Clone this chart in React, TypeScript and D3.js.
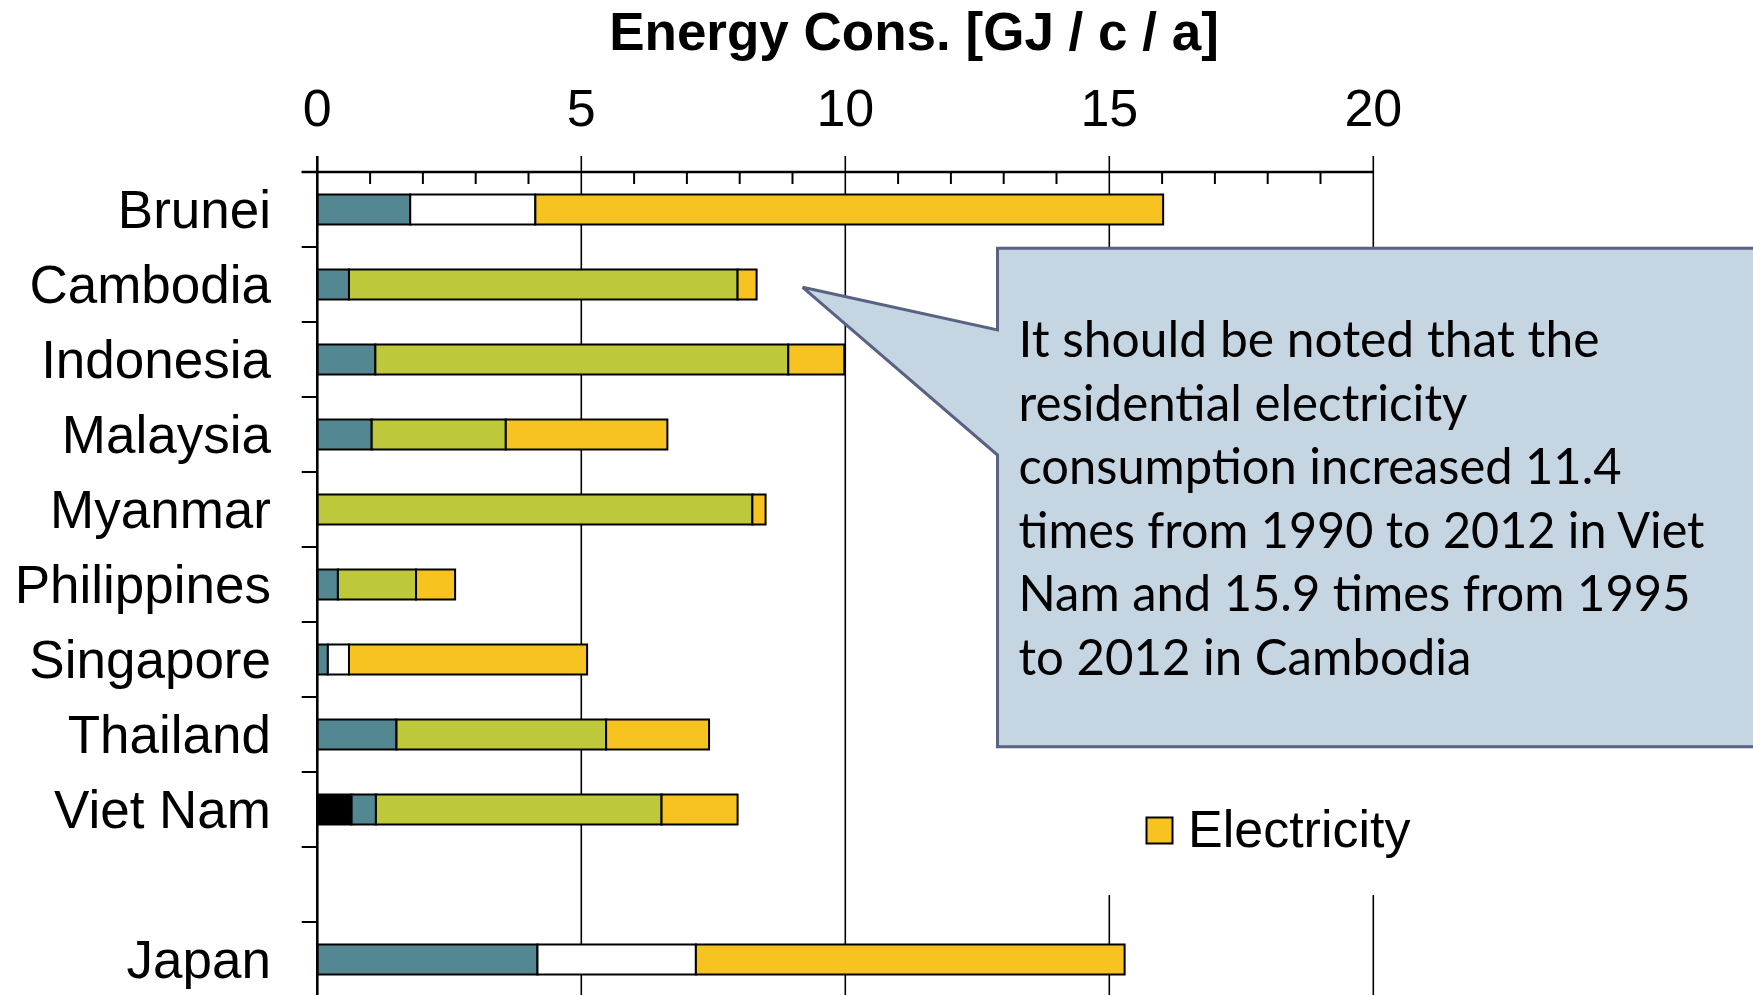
import React from "react";
import * as d3 from "d3";

// Residential energy consumption per capita, by energy source [GJ / c / a]
const countries = ["Brunei", "Cambodia", "Indonesia", "Malaysia", "Myanmar", "Philippines", "Singapore", "Thailand", "Viet Nam", "Japan"];
const rowKeys = ["Brunei", "Cambodia", "Indonesia", "Malaysia", "Myanmar", "Philippines", "Singapore", "Thailand", "Viet Nam", "gap", "Japan"];
const coal = [0, 0, 0, 0, 0, 0, 0, 0, 0.65, 0];
const oil = [1.76, 0.6, 1.1, 1.03, 0, 0.39, 0.2, 1.5, 0.46, 4.17];
const gas = [2.37, 0, 0, 0, 0, 0, 0.4, 0, 0, 3.0];
const biomass = [0, 7.36, 7.82, 2.54, 8.24, 1.48, 0, 3.97, 5.41, 0];
const electricity = [11.89, 0.36, 1.06, 3.06, 0.25, 0.74, 4.51, 1.95, 1.44, 8.12];
const seriesKeys = ["Coal", "Oil", "Gas", "Biomass", "Electricity"];
const seriesColors = ["#000000", "#538893", "#ffffff", "#bdc83a", "#f6c320"];
const xTicks = [0, 5, 10, 15, 20];
const minorTicks = d3.range(0, 21);
const titleText = "Energy Cons. [GJ / c / a]";
const noteLines = [
  "It should be noted that the",
  "residential electricity",
  "consumption increased 11.4",
  "times from 1990 to 2012 in Viet",
  "Nam and 15.9 times from 1995",
  "to 2012 in Cambodia",
];
const noteWidths = [581, 449, 603, 686, 672, 453];

const W = 1753;
const H = 995;
const sans = "Arial, 'Liberation Sans', Helvetica, sans-serif";

export default function App() {
  const table = countries.map((c, i) => ({
    country: c,
    Coal: coal[i],
    Oil: oil[i],
    Gas: gas[i],
    Biomass: biomass[i],
    Electricity: electricity[i],
  }));
  const stacked = d3.stack<any>().keys(seriesKeys)(table);

  const x = d3.scaleLinear().domain([0, 20]).range([317.3, 1373.3]);
  const y = d3
    .scaleBand<string>()
    .domain(rowKeys)
    .range([172, 997])
    .paddingInner(0.6)
    .paddingOuter(0.3);
  const step = y.step();
  const boundaries = rowKeys.map((k) => (y(k) as number) - step * 0.3).concat([997]);
  const top = 172;
  const bottom = 997;
  const color = d3.scaleOrdinal<string, string>().domain(seriesKeys).range(seriesColors);

  // speech-bubble callout
  const cx = 997.5;
  const callout = d3.path();
  callout.moveTo(cx, 248.3);
  callout.lineTo(1770, 248.3);
  callout.lineTo(1770, 746.7);
  callout.lineTo(cx, 746.7);
  callout.lineTo(cx, 455);
  callout.lineTo(802.7, 287.3);
  callout.lineTo(cx, 330);
  callout.closePath();

  return (
    <div style={{ position: "absolute", left: 0, top: 0 }}>
      <svg width={W} height={H} viewBox={`0 0 ${W} ${H}`} style={{ display: "block", background: "#ffffff" }}>
        <text x={914} y={50} textAnchor="middle" fontFamily={sans} fontWeight="bold" fontSize={53} fill="#000">
          {titleText}
        </text>

        {xTicks.map((t) => (
          <text key={`tl${t}`} x={x(t)} y={126} textAnchor="middle" fontFamily={sans} fontSize={52} fill="#000">
            {t}
          </text>
        ))}

        {/* vertical gridlines */}
        {xTicks.slice(1).map((t) => (
          <line key={`g${t}`} x1={x(t)} x2={x(t)} y1={156} y2={bottom} stroke="#000" strokeWidth={1.6} />
        ))}

        {/* minor ticks on the top axis */}
        {minorTicks
          .filter((t) => t % 5 !== 0)
          .map((t) => (
            <line key={`m${t}`} x1={x(t)} x2={x(t)} y1={top} y2={184} stroke="#000" strokeWidth={2} />
          ))}

        {/* category boundary ticks */}
        {boundaries.map((b, i) => (
          <line key={`ct${i}`} x1={301.7} x2={x(0)} y1={b} y2={b} stroke="#000" strokeWidth={2} />
        ))}

        {/* stacked bars */}
        {stacked.map((s) => (
          <g key={s.key} fill={color(s.key)}>
            {s.map((d, i) =>
              d[1] - d[0] > 0 ? (
                <rect
                  key={`${s.key}${i}`}
                  x={x(d[0])}
                  y={y(table[i].country) as number}
                  width={x(d[1]) - x(d[0])}
                  height={y.bandwidth()}
                  stroke="#000"
                  strokeWidth={2}
                />
              ) : null
            )}
          </g>
        ))}

        {/* axes */}
        <line x1={x(0)} x2={x(0)} y1={156} y2={bottom} stroke="#000" strokeWidth={2.6} />
        <line x1={301.7} x2={x(20)} y1={top} y2={top} stroke="#000" strokeWidth={2.6} />

        {countries.map((c) => (
          <text
            key={`cl${c}`}
            x={271}
            y={(y(c) as number) + y.bandwidth() / 2 + 18.8}
            textAnchor="end"
            fontFamily={sans}
            fontSize={53}
            fill="#000"
          >
            {c}
          </text>
        ))}

        {/* legend */}
        <rect x={1092} y={700} width={420} height={195} fill="#ffffff" />
        <rect x={1146.5} y={817.5} width={26} height={26} fill={color("Electricity")} stroke="#000" strokeWidth={2} />
        <text x={1188} y={847} fontFamily={sans} fontSize={52} fill="#000">
          Electricity
        </text>

        {/* callout */}
        <path d={callout.toString()} fill="#c5d5e2" stroke="#596282" strokeWidth={3} strokeLinejoin="miter" />
        {noteLines.map((line, i) => (
          <text
            key={`n${i}`}
            x={1018.5}
            y={357 + i * 63.6}
            fontFamily="Lato, 'Open Sans', sans-serif"
            fontSize={50}
            fill="#000"
            textLength={noteWidths[i]}
            lengthAdjust="spacingAndGlyphs"
          >
            {line}
          </text>
        ))}
      </svg>
    </div>
  );
}
